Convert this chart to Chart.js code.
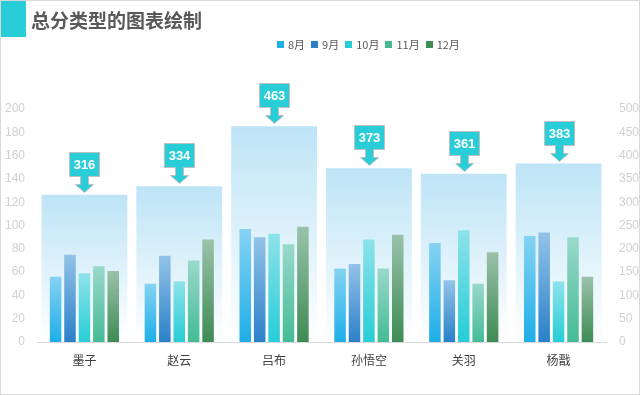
<!DOCTYPE html>
<html>
<head>
<meta charset="utf-8">
<script src="https://cdn.jsdelivr.net/npm/chart.js@4/dist/chart.umd.min.js"></script>
<style>
  html, body { margin: 0; padding: 0; background: #fff; }
  #wrap { position: relative; width: 640px; height: 395px; box-sizing: border-box; border: 1px solid #d9d9d9; overflow: hidden; }
  #c { position: absolute; left: -1px; top: -1px; }
  #block { position: absolute; left: -1px; top: -1px; width: 26px; height: 37px; background: #29cdd8; }
  #title { position: absolute; left: 30px; top: 6px; font-family: "Noto Sans CJK SC", sans-serif; font-size: 19px; font-weight: bold; color: #595959; line-height: 26px; white-space: nowrap; }
  #legend { position: absolute; left: 276px; top: 34px; display: flex; font-family: "Noto Sans CJK SC", sans-serif; font-size: 11px; color: #595959; line-height: 18px; white-space: nowrap; }
  #legend .it { display: flex; align-items: center; margin-right: 6px; }
  #legend .sq { width: 7px; height: 7px; margin-right: 4px; }
</style>
</head>
<body>
<div id="wrap">
  <canvas id="c" width="640" height="395"></canvas>
  <div id="block"></div>
  <div id="title">总分类型的图表绘制</div>
  <div id="legend"></div>
</div>
<script>
const categories = ['墨子', '赵云', '吕布', '孙悟空', '关羽', '杨戬'];
const seriesNames = ['8月', '9月', '10月', '11月', '12月'];
const aug = [56, 50, 97, 63, 85, 91];
const sep = [75, 74, 90, 67, 53, 94];
const oct = [59, 52, 93, 88, 96, 52];
const nov = [65, 70, 84, 63, 50, 90];
const dec = [61, 88, 99, 92, 77, 56];
const totals = [316, 334, 463, 373, 361, 383];
const leftTicks = [0, 20, 40, 60, 80, 100, 120, 140, 160, 180, 200];
const rightTicks = [0, 50, 100, 150, 200, 250, 300, 350, 400, 450, 500];

const seriesValues = [aug, sep, oct, nov, dec];
const topColors = ['#85d3f3', '#93c3e8', '#8ee2ea', '#9ad9cb', '#9ac2aa'];
const bottomColors = ['#1eaee8', '#2a80c9', '#27cdd6', '#44bb95', '#3e8b54'];
const legendColors = ['#1eaee8', '#2a80c9', '#27cdd6', '#44bb95', '#3e8b54'];

function gradFill(topC, botC, axisId) {
  return function (c) {
    const chart = c.chart;
    if (!chart.chartArea || c.type !== 'data') return botC;
    const ys = chart.scales[axisId];
    const top = ys.getPixelForValue(c.raw);
    const base = ys.getPixelForValue(0);
    const g = chart.ctx.createLinearGradient(0, top, 0, base);
    g.addColorStop(0, topC);
    g.addColorStop(1, botC);
    return g;
  };
}

const datasets = seriesValues.map((vals, i) => ({
  label: seriesNames[i],
  data: vals,
  yAxisID: 'y',
  backgroundColor: gradFill(topColors[i], bottomColors[i], 'y'),
  borderWidth: 0,
  categoryPercentage: 0.76,
  barPercentage: 0.8,
  order: 0
}));
datasets.push({
  label: '总分',
  data: totals,
  yAxisID: 'y1',
  grouped: false,
  backgroundColor: gradFill('#bde4f6', '#ffffff', 'y1'),
  borderWidth: 0,
  categoryPercentage: 1,
  barPercentage: 0.905,
  order: 10
});

const calloutPlugin = {
  id: 'callout',
  afterDatasetsDraw(chart) {
    const idx = chart.data.datasets.length - 1;
    const meta = chart.getDatasetMeta(idx);
    const ctx = chart.ctx;
    meta.data.forEach((el, i) => {
      const x = Math.round(el.x) + 0.5;
      const T = Math.round(el.y);
      const bw = 15, bTop = T - 43, bBot = T - 19, sBot = T - 11, tip = T - 3, sw = 4, hw = 9;
      ctx.save();
      ctx.beginPath();
      ctx.moveTo(x - bw, bTop + 0.5);
      ctx.lineTo(x + bw, bTop + 0.5);
      ctx.lineTo(x + bw, bBot + 0.5);
      ctx.lineTo(x + sw, bBot + 0.5);
      ctx.lineTo(x + sw, sBot + 0.5);
      ctx.lineTo(x + hw, sBot + 0.5);
      ctx.lineTo(x, tip + 0.5);
      ctx.lineTo(x - hw, sBot + 0.5);
      ctx.lineTo(x - sw, sBot + 0.5);
      ctx.lineTo(x - sw, bBot + 0.5);
      ctx.lineTo(x - bw, bBot + 0.5);
      ctx.closePath();
      ctx.fillStyle = '#29cdd8';
      ctx.fill();
      ctx.lineWidth = 1;
      ctx.strokeStyle = '#bfbfbf';
      ctx.stroke();
      ctx.fillStyle = '#ffffff';
      ctx.font = 'bold 13px "Liberation Sans", Arial, sans-serif';
      ctx.textAlign = 'center';
      ctx.textBaseline = 'middle';
      ctx.fillText(String(totals[i]), x, (bTop + bBot) / 2 + 1);
      ctx.restore();
    });
  }
};

const chart = new Chart(document.getElementById('c'), {
  type: 'bar',
  data: { labels: categories, datasets },
  options: {
    responsive: false,
    animation: false,
    devicePixelRatio: 1,
    layout: { padding: { top: 109, left: 0, right: 0, bottom: 0 } },
    plugins: { legend: { display: false }, tooltip: { enabled: false } },
    scales: {
      x: {
        grid: { display: false, drawTicks: false },
        border: { display: true, color: '#d9d9d9', width: 1 },
        ticks: { color: '#404040', font: { family: '"Noto Sans CJK SC", sans-serif', size: 12 }, padding: 11 },
        afterFit(s) { s.height = 53; }
      },
      y: {
        position: 'left',
        min: 0, max: 200,
        afterBuildTicks(s) { s.ticks = leftTicks.map(v => ({ value: v })); },
        grid: { display: false, drawTicks: false },
        border: { display: false },
        ticks: { color: '#d0d0d0', font: { family: '"Liberation Sans", sans-serif', size: 12 }, padding: 12 },
        afterFit(s) { s.width = 37; }
      },
      y1: {
        position: 'right',
        min: 0, max: 500,
        afterBuildTicks(s) { s.ticks = rightTicks.map(v => ({ value: v })); },
        grid: { display: false, drawTicks: false },
        border: { display: false },
        ticks: { color: '#d0d0d0', font: { family: '"Liberation Sans", sans-serif', size: 12 }, padding: 13 },
        afterFit(s) { s.width = 34; }
      }
    }
  },
  plugins: [calloutPlugin]
});

const lg = document.getElementById('legend');
seriesNames.forEach((n, i) => {
  const it = document.createElement('div');
  it.className = 'it';
  const sq = document.createElement('div');
  sq.className = 'sq';
  sq.style.background = legendColors[i];
  const tx = document.createElement('span');
  tx.textContent = n;
  it.appendChild(sq);
  it.appendChild(tx);
  lg.appendChild(it);
});
</script>
</body>
</html>
